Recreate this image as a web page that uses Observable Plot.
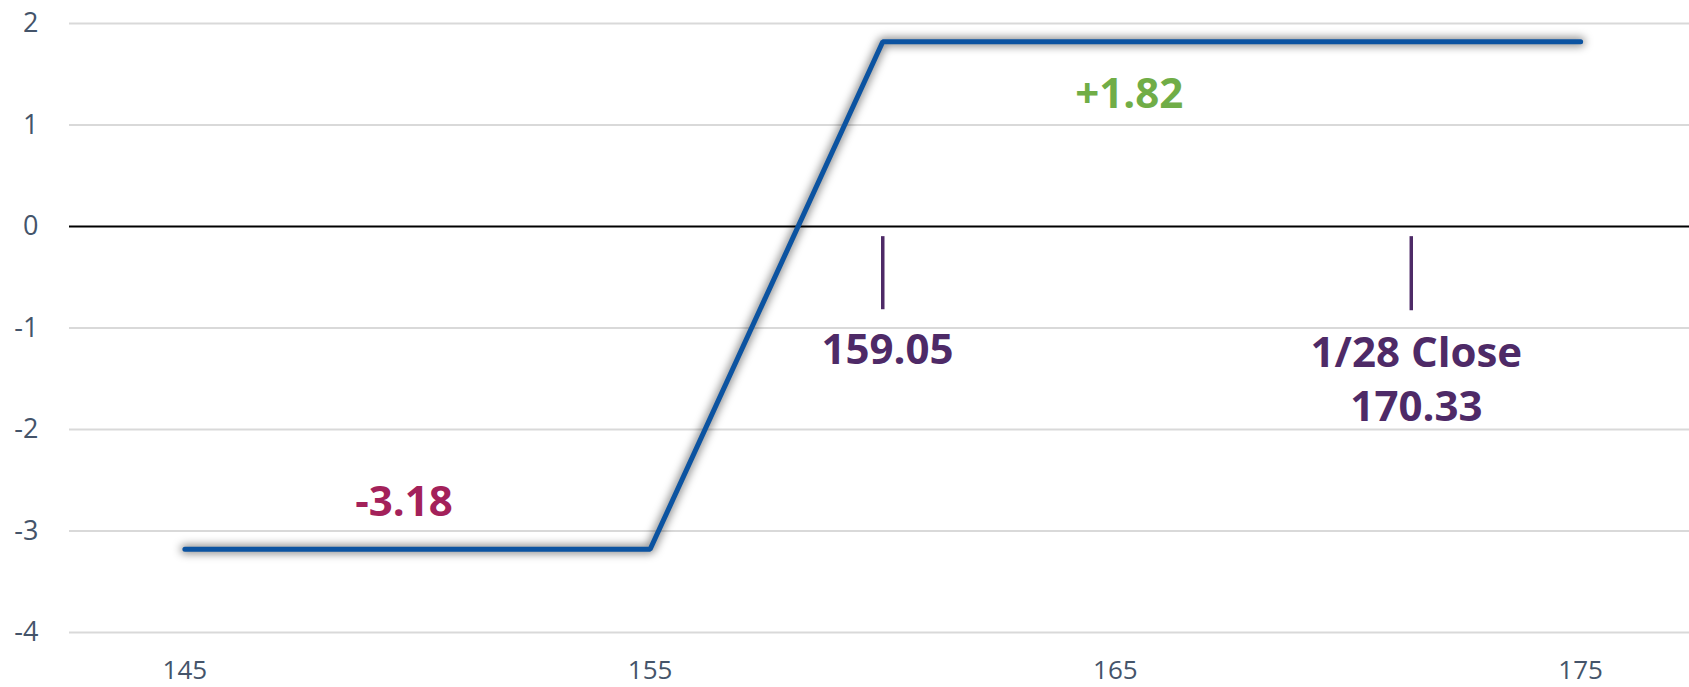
<!DOCTYPE html>
<html>
<head>
<meta charset="utf-8">
<script src="https://cdn.jsdelivr.net/npm/d3@7"></script>
<script src="https://cdn.jsdelivr.net/npm/@observablehq/plot@0.6"></script>
<style>
  html, body { margin: 0; padding: 0; background: #ffffff; }
  #chart svg { display: block; }
</style>
</head>
<body>
<div id="chart"></div>
<script>
// Payoff line (strike price vs. profit/loss)
const prices = [145, 155, 160, 175];
const profit = [-3.18, -3.18, 1.82, 1.82];

// Axis ticks
const xTicks = [145, 155, 165, 175];
const yTicks = [-4, -3, -2, -1, 0, 1, 2];

// Vertical marker ticks
const markerX = [160, 171.36];
const markerTop = [-0.1, -0.1];
const markerBottom = [-0.82, -0.83];

// Text annotations
const annoText = ["-3.18", "+1.82", "159.05", "1/28 Close", "170.33"];
const annoX = [149.71, 165.3, 160.1, 171.47, 171.47];
const annoY = [-2.72, 1.3, -1.22, -1.25, -1.785];
const annoColor = ["#A3215A", "#70AD47", "#4E2A67", "#4E2A67", "#4E2A67"];

const lineData = prices.map((p, i) => ({price: p, value: profit[i]}));
const markers = markerX.map((x, i) => ({x, y1: markerTop[i], y2: markerBottom[i]}));
const annos = annoText.map((t, i) => ({text: t, x: annoX[i], y: annoY[i], color: annoColor[i]}));

const lineOpts = {x: "price", y: "value", strokeLinecap: "round", strokeLinejoin: "miter"};

const plot = Plot.plot({
  width: 1689,
  height: 687,
  marginLeft: 69,
  marginRight: 0,
  marginTop: 23,
  marginBottom: 55,
  x: {domain: [142.52, 177.34]},
  y: {domain: [-4, 2]},
  style: {fontFamily: "'Open Sans', sans-serif", fontSize: "27px", color: "#44546A", background: "#ffffff"},
  marks: [
    Plot.ruleY(yTicks.filter(d => d !== 0), {stroke: "#D9D9D9", strokeWidth: 2}),
    Plot.ruleY([0], {stroke: "#000000", strokeWidth: 2}),
    Plot.line(lineData, {...lineOpts, stroke: "#000000", strokeOpacity: 0.45, strokeWidth: 9, className: "payoff-shadow"}),
    Plot.line(lineData, {...lineOpts, stroke: "#0B53A1", strokeWidth: 5}),
    Plot.ruleX(markers, {x: "x", y1: "y1", y2: "y2", stroke: "#4E2A67", strokeWidth: 3.5}),
    Plot.text(annos, {x: "x", y: "y", text: "text", fill: "color", fontSize: 42, fontWeight: "bold", fontFamily: "'Open Sans', sans-serif"}),
    Plot.axisY({ticks: yTicks, tickSize: 0, tickPadding: 31, tickFormat: d => String(d), label: null, fill: "#44546A", fontSize: 27}),
    Plot.axisX({ticks: xTicks, tickSize: 0, tickPadding: 28, tickFormat: d => String(d), label: null, fill: "#44546A", fontSize: 26})
  ]
});

document.getElementById("chart").appendChild(plot);

// soft blurred shadow under the payoff line
const svg = d3.select(plot);
const defs = svg.insert("defs", ":first-child");
defs.append("filter")
  .attr("id", "lineShadow")
  .attr("x", "-10%").attr("y", "-10%").attr("width", "120%").attr("height", "120%")
  .attr("filterUnits", "objectBoundingBox")
  .append("feGaussianBlur").attr("stdDeviation", 4);
svg.selectAll("g.payoff-shadow").attr("filter", "url(#lineShadow)");
</script>
</body>
</html>
